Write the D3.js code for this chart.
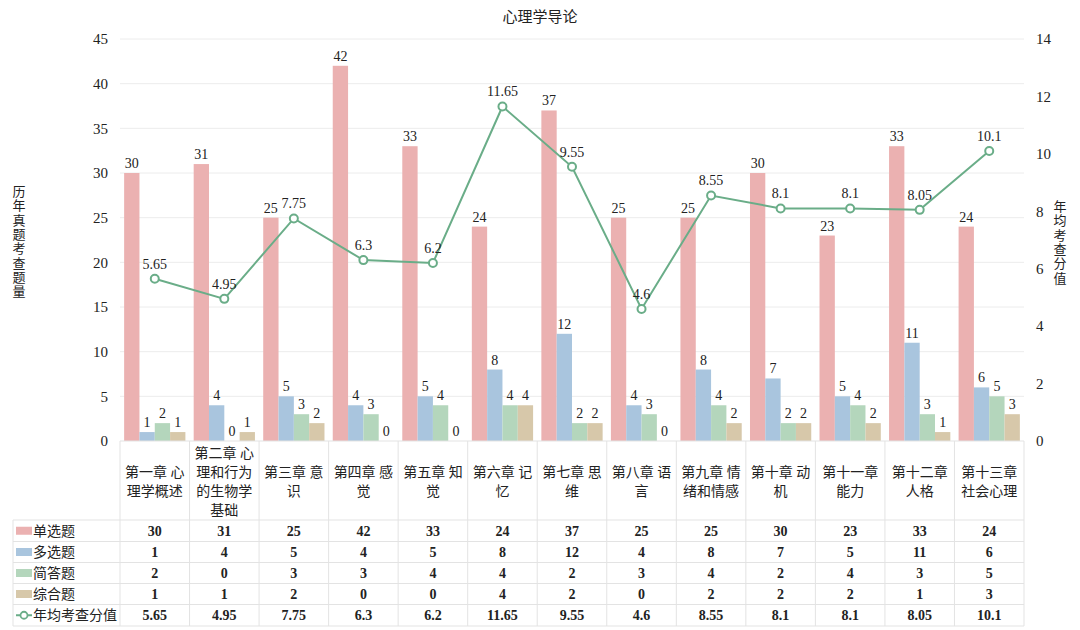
<!DOCTYPE html>
<html><head><meta charset="utf-8">
<script src="https://cdn.jsdelivr.net/npm/d3@7/dist/d3.min.js"></script>
<style>
body{margin:0;background:#fff;}
text{font-family:"Liberation Serif","Noto Sans CJK SC",serif;fill:#222;}
</style></head>
<body><svg id="c" width="1080" height="630"></svg>
<script>
const title = "心理学导论";
const categories = [
  ["第一章 心","理学概述"],
  ["第二章 心","理和行为","的生物学","基础"],
  ["第三章 意","识"],
  ["第四章 感","觉"],
  ["第五章 知","觉"],
  ["第六章 记","忆"],
  ["第七章 思","维"],
  ["第八章 语","言"],
  ["第九章 情","绪和情感"],
  ["第十章 动","机"],
  ["第十一章","能力"],
  ["第十二章","人格"],
  ["第十三章","社会心理"]
];
const seriesNames = ["单选题","多选题","简答题","综合题"];
const single = [30,31,25,42,33,24,37,25,25,30,23,33,24];
const multi = [1,4,5,4,5,8,12,4,8,7,5,11,6];
const short = [2,0,3,3,4,4,2,3,4,2,4,3,5];
const essay = [1,1,2,0,0,4,2,0,2,2,2,1,3];
const lineName = "年均考查分值";
const avgScore = [5.65,4.95,7.75,6.3,6.2,11.65,9.55,4.6,8.55,8.1,8.1,8.05,10.1];
const avgLabels = ["5.65","4.95","7.75","6.3","6.2","11.65","9.55","4.6","8.55","8.1","8.1","8.05","10.1"];
const leftTicks = [0,5,10,15,20,25,30,35,40,45];
const rightTicks = [0,2,4,6,8,10,12,14];
const leftTitle = "历年真题考查题量";
const rightTitle = "年均考查分值";

const colors = ["#ebb1b1","#a9c5de","#b4d6bc","#d7c8aa"];
const lineColor = "#6aad88";
const barSeries = [single, multi, short, essay];

const svg = d3.select("#c");
const L = 120, R = 1024, T = 39, B = 441;
const idx = categories.map((d,i)=>i);
const x = d3.scaleBand().domain(idx).range([L,R]);
const xs = d3.scaleBand().domain([0,1,2,3]).range([0, x.bandwidth()]).paddingOuter(0.27).paddingInner(0);
const y = d3.scaleLinear().domain([0,45]).range([B,T]);
const y2 = d3.scaleLinear().domain([0,14]).range([B,T]);

// title
svg.append("text").attr("x",540).attr("y",22).attr("text-anchor","middle").attr("font-size",15).text(title);

// grid
svg.append("g").selectAll("line").data(leftTicks.filter(t=>t>0)).join("line")
  .attr("x1",L).attr("x2",R).attr("y1",d=>y(d)).attr("y2",d=>y(d))
  .attr("stroke","#ececec").attr("stroke-width",1);

// left axis
const la = svg.append("g").attr("transform",`translate(${L},0)`)
  .call(d3.axisLeft(y).tickValues(leftTicks).tickSize(0).tickPadding(12));
la.select(".domain").remove();
la.selectAll("text").attr("font-size",15).style("font-family","Liberation Serif").attr("fill","#222");

// right axis
const ra = svg.append("g").attr("transform",`translate(${R},0)`)
  .call(d3.axisRight(y2).tickValues(rightTicks).tickSize(0).tickPadding(12));
ra.select(".domain").remove();
ra.selectAll("text").attr("font-size",15).style("font-family","Liberation Serif").attr("fill","#222");

// axis titles (vertical stacked)
const lt = svg.append("text").attr("font-size",13).attr("text-anchor","middle");
leftTitle.split("").forEach((ch,i)=>lt.append("tspan").attr("x",19).attr("y",196+i*14.3).text(ch));
const rt = svg.append("text").attr("font-size",13).attr("text-anchor","middle");
rightTitle.split("").forEach((ch,i)=>rt.append("tspan").attr("x",1060).attr("y",211+i*14.3).text(ch));

// bars
barSeries.forEach((vals,s)=>{
  const g = svg.append("g");
  g.selectAll("rect").data(vals).join("rect")
    .attr("x",(d,i)=>x(i)+xs(s)).attr("width",xs.bandwidth())
    .attr("y",d=>y(d)).attr("height",d=>B-y(d)).attr("fill",colors[s]);
  g.selectAll("text").data(vals).join("text")
    .attr("x",(d,i)=>x(i)+xs(s)+xs.bandwidth()/2).attr("y",d=>y(d)-5)
    .attr("text-anchor","middle").attr("font-size",14).text(d=>d);
});

// line
const line = d3.line().x((d,i)=>x(i)+x.bandwidth()/2).y(d=>y2(d));
svg.append("path").datum(avgScore).attr("d",line).attr("fill","none").attr("stroke",lineColor).attr("stroke-width",2);
svg.append("g").selectAll("circle").data(avgScore).join("circle")
  .attr("cx",(d,i)=>x(i)+x.bandwidth()/2).attr("cy",d=>y2(d)).attr("r",4)
  .attr("fill","#fff").attr("stroke",lineColor).attr("stroke-width",2);
svg.append("g").selectAll("text").data(avgScore).join("text")
  .attr("x",(d,i)=>x(i)+x.bandwidth()/2).attr("y",d=>y2(d)-10)
  .attr("text-anchor","middle").attr("font-size",14).text((d,i)=>avgLabels[i]);

// table
const tb = svg.append("g");
const gridC = "#e3e3e3";
const rowTops = [520,541.5,562.5,583.5,604.5,626];
const TL = 13;
tb.append("line").attr("x1",L).attr("x2",R).attr("y1",B).attr("y2",B).attr("stroke",gridC);
rowTops.forEach(yy=>tb.append("line").attr("x1",TL).attr("x2",R).attr("y1",yy).attr("y2",yy).attr("stroke",gridC));
tb.append("line").attr("x1",TL).attr("x2",TL).attr("y1",520).attr("y2",626).attr("stroke",gridC);
idx.concat([13]).forEach(i=>{
  const xx = i<13 ? x(i) : R;
  tb.append("line").attr("x1",xx).attr("x2",xx).attr("y1",B).attr("y2",626).attr("stroke",gridC);
});
categories.forEach((lines,i)=>{
  const cx = x(i)+x.bandwidth()/2;
  const n = lines.length, lh = 19;
  const y0 = 481 - (n-1)*lh/2 + 5;
  const t = tb.append("text").attr("text-anchor","middle").attr("font-size",14);
  lines.forEach((ln,k)=>t.append("tspan").attr("x",cx).attr("y",y0+k*lh).text(ln));
});
const rows = [single,multi,short,essay];
rows.forEach((vals,r)=>{
  const cy = (rowTops[r]+rowTops[r+1])/2;
  tb.append("rect").attr("x",16).attr("y",cy-4).attr("width",16).attr("height",8).attr("fill",colors[r]);
  tb.append("text").attr("x",33).attr("y",cy+5).attr("font-size",14).text(seriesNames[r]);
  tb.selectAll(null).data(vals).join("text")
    .attr("x",(d,i)=>x(i)+x.bandwidth()/2).attr("y",cy+5).attr("text-anchor","middle")
    .attr("font-size",14).attr("font-weight","bold").text(d=>d);
});
{
  const cy = (rowTops[4]+rowTops[5])/2;
  tb.append("line").attr("x1",16).attr("x2",32).attr("y1",cy).attr("y2",cy).attr("stroke",lineColor).attr("stroke-width",2);
  tb.append("circle").attr("cx",24).attr("cy",cy).attr("r",3.5).attr("fill","#fff").attr("stroke",lineColor).attr("stroke-width",1.8);
  tb.append("text").attr("x",33).attr("y",cy+5).attr("font-size",14).text(lineName);
  tb.selectAll(null).data(avgScore).join("text")
    .attr("x",(d,i)=>x(i)+x.bandwidth()/2).attr("y",cy+5).attr("text-anchor","middle")
    .attr("font-size",14).attr("font-weight","bold").text((d,i)=>avgLabels[i]);
}
</script></body></html>
